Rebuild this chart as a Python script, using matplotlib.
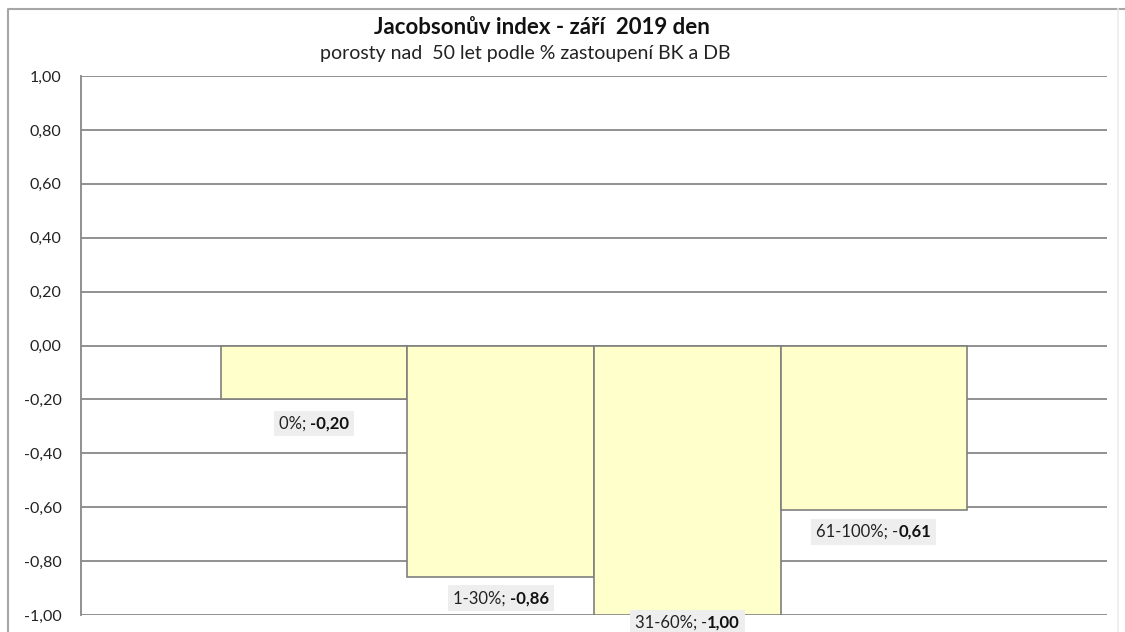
import matplotlib
matplotlib.use("Agg")
import matplotlib.pyplot as plt
from matplotlib.lines import Line2D
from matplotlib.offsetbox import TextArea, HPacker, AnnotationBbox

plt.rcParams['font.family'] = ['Lato', 'DejaVu Sans']

# Data
series = ["0%", "1-30%", "31-60%", "61-100%"]
values = [-0.20, -0.86, -1.00, -0.61]
y_ticks = [-1.0, -0.8, -0.6, -0.4, -0.2, 0.0, 0.2, 0.4, 0.6, 0.8, 1.0]

title = "Jacobsonův index - září  2019 den"
subtitle = "porosty nad  50 let podle % zastoupení BK a DB"

W, H = 1125, 632
fig = plt.figure(figsize=(W / 100, H / 100), dpi=100)
fig.patch.set_facecolor("white")

# Chart area frame (top and left strong, right edge faint)
x0, y0, x1 = 8 / W, 1 - 9 / H, 1118 / W
fig.lines.append(Line2D([x0, x0, 1.0], [0.0, y0, y0], transform=fig.transFigure,
                        color="#a6a6a6", linewidth=1.5))
fig.lines.append(Line2D([x1, x1], [0.0, y0], transform=fig.transFigure,
                        color="#ececec", linewidth=1.2))

ax = fig.add_axes([81 / W, 1 - 615 / H, (1107 - 81) / W, (615 - 76) / H])

grid_color = "#888888"
ax.set_ylim(-1.0, 1.0)
ax.set_yticks(y_ticks)
ax.set_yticklabels([f"{t:.2f}".replace(".", ",") for t in y_ticks], fontsize=11.5)
ax.tick_params(axis="y", length=0, pad=14, colors="#222222")
ax.tick_params(axis="x", bottom=False, labelbottom=False)
ax.yaxis.grid(True, color=grid_color, linewidth=1.3)
ax.set_axisbelow(True)
for s in ["top", "right", "bottom"]:
    ax.spines[s].set_visible(False)
ax.spines["left"].set_color(grid_color)
ax.spines["left"].set_linewidth(1.3)

# One cluster of four series, gap width 150 %
xs = list(range(len(series)))
ax.bar(xs, values, width=1.0, color="#FFFFCC", edgecolor="#7f7f7f", linewidth=1.2, zorder=3)
ax.set_xlim(-0.5 - 0.75, len(series) - 0.5 + 0.75)

# Data labels: series name and value (value in bold)
offsets_px = [24, 21, 8, 22]
minus_bold = [True, True, False, False]
fs = 12
for x, name, v, off, mb in zip(xs, series, values, offsets_px, minus_bold):
    num = f"{abs(v):.2f}".replace(".", ",")
    parts = [TextArea(f"{name}; ", textprops=dict(fontsize=fs, color="#222222"))]
    if mb:
        parts.append(TextArea("-" + num, textprops=dict(fontsize=fs, fontweight="bold", color="#111111")))
    else:
        parts.append(TextArea("-", textprops=dict(fontsize=fs, color="#222222")))
        parts.append(TextArea(num, textprops=dict(fontsize=fs, fontweight="bold", color="#111111")))
    box = HPacker(children=parts, align="baseline", pad=0, sep=0)
    ab = AnnotationBbox(box, (x, v), xybox=(0, -off * 0.72), boxcoords="offset points",
                        frameon=True, pad=0.35, annotation_clip=False,
                        bboxprops=dict(facecolor="#eeeeee", edgecolor="none"), zorder=5)
    ax.add_artist(ab)

fig.text(542 / W, 1 - 28 / H, title, ha="center", va="center", fontsize=16,
         fontweight="bold", color="#111111")
fig.text(525 / W, 1 - 53 / H, subtitle, ha="center", va="center", fontsize=14,
         color="#222222")

fig.savefig("out.png", dpi=100)
